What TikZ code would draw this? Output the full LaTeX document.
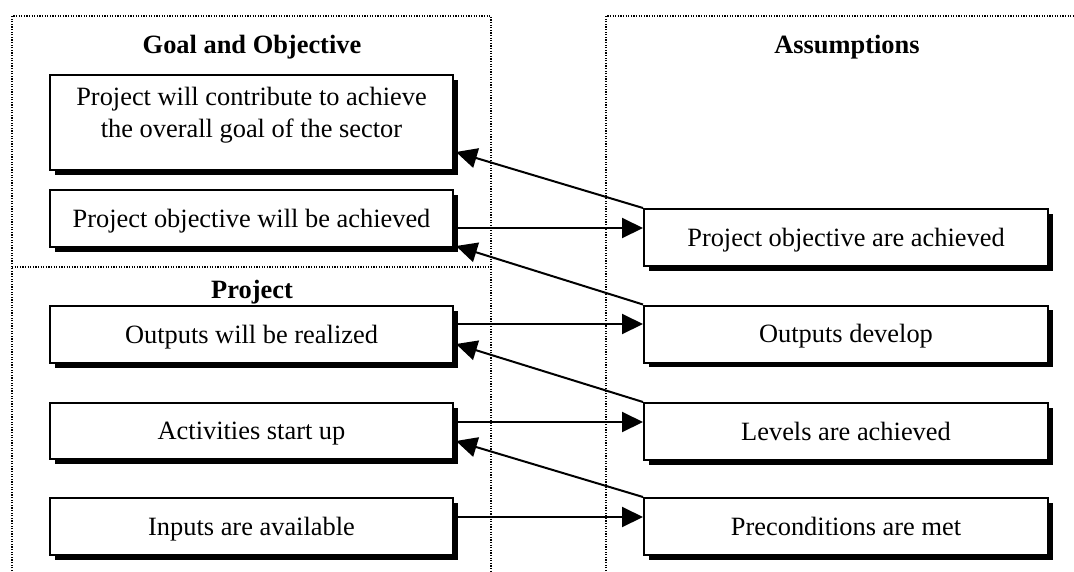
\documentclass[tikz,border=0pt]{standalone}
\usepackage{fontspec}
\setmainfont{Liberation Serif}
\usetikzlibrary{arrows.meta,shadows}
\begin{document}
\begin{tikzpicture}[x=1pt,y=-1pt,
  every node/.style={font=\fontsize{26.4pt}{31.7pt}\selectfont},
  frame/.style={line width=1.2pt, dash pattern=on 1.2pt off 1.4pt},
  box/.style={draw, fill=white, line width=2pt, minimum height=57pt, inner sep=0pt,
    text height=18pt, text depth=0.5pt,
    drop shadow={shadow xshift=4.5pt, shadow yshift=-4.5pt, fill=black, opacity=1}},
  lbox/.style={box, minimum width=403pt},
  rbox/.style={box, minimum width=404pt},
  head/.style={font=\fontsize{26.4pt}{31.7pt}\selectfont\bfseries, anchor=base, inner sep=0pt},
  arr/.style={line width=2pt, -{Triangle[length=21pt,width=20pt]}}
]
\useasboundingbox (0,0) rectangle (1074,571);

% dotted column frames
\draw[frame] (12,571) -- (12,16) -- (491,16) -- (491,571);
\draw[frame] (12,267) -- (491,267);
\draw[frame] (606,571) -- (606,16) -- (1074,16);

% column headings
\node[head] (hgoal) at (252,53) {Goal and Objective};
\node[head] (hassum) at (847,53) {Assumptions};
\node[head] (hproj) at (252,298) {Project};

% left column
\node[lbox, minimum height=95pt] (L1) at (251.5,122.5) {};
\node[align=center, inner sep=0pt] (L1t) at (251.5,115.4)
  {Project will contribute to achieve\\the overall goal of the sector};
\node[lbox] (L2) at (251.5,218.5) {Project objective will be achieved};
\node[lbox] (L3) at (251.5,334.5) {Outputs will be realized};
\node[lbox, minimum height=56pt] (L4) at (251.5,431) {Activities start up};
\node[lbox] (L5) at (251.5,526.5) {Inputs are available};

% right column
\node[rbox] (R2) at (846,237.5) {Project objective are achieved};
\node[rbox] (R3) at (846,334) {Outputs develop};
\node[rbox] (R4) at (846,431.5) {Levels are achieved};
\node[rbox] (R5) at (846,526.5) {Preconditions are met};

% horizontal links
\draw[arr] ([yshift=-9.5pt]L2.east) -- ([yshift=9.5pt]R2.west);
\draw[arr] ([yshift=10.5pt]L3.east) -- ([yshift=10pt]R3.west);
\draw[arr] ([yshift=9pt]L4.east) -- ([yshift=9.5pt]R4.west);
\draw[arr] ([yshift=9.5pt]L5.east) -- ([yshift=9.5pt]R5.west);

% diagonal links back up the hierarchy
\draw[arr] (R2.north west) -- ([xshift=2pt,yshift=-29.5pt]L1.east);
\draw[arr] (R3.north west) -- ([xshift=2pt,yshift=-27.5pt]L2.east);
\draw[arr] (R4.north west) -- ([xshift=2pt,yshift=-9.5pt]L3.east);
\draw[arr] (R5.north west) -- ([xshift=2pt,yshift=-10pt]L4.east);
\end{tikzpicture}
\end{document}
